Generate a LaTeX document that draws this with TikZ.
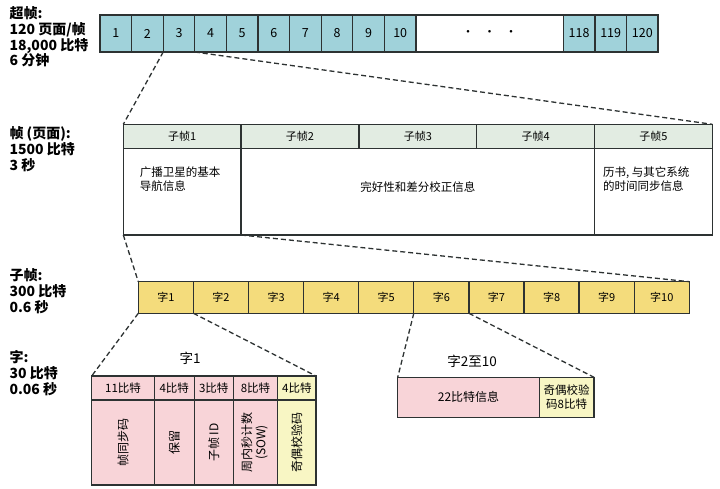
\documentclass[tikz,border=0pt]{standalone}
\usepackage{fontspec}
\setmainfont{Noto Sans CJK SC}
\usetikzlibrary{positioning}

\definecolor{supfill}{RGB}{160,210,218}
\definecolor{hdrfill}{RGB}{226,236,226}
\definecolor{wordfill}{RGB}{244,220,124}
\definecolor{bitfill}{RGB}{248,212,216}
\definecolor{parfill}{RGB}{248,246,196}
\definecolor{edge}{RGB}{45,50,50}

\tikzset{
  box/.style={draw=edge, line width=1.3pt, inner sep=0pt, outer sep=0pt, align=center},
  sfcell/.style={box, fill=supfill, minimum width=31.6pt, minimum height=37pt, font=\fontsize{12.5}{14}\selectfont},
  hdr/.style={box, fill=hdrfill, minimum width=117.8pt, minimum height=24pt, font=\fontsize{11}{13}\selectfont},
  body/.style={box, fill=white, minimum height=86.7pt},
  wcell/.style={box, fill=wordfill, minimum width=55.1pt, minimum height=31.6pt, font=\fontsize{11}{13}\selectfont},
  bits/.style={box, fill=bitfill, minimum height=24pt, font=\fontsize{11.5}{13}\selectfont},
  field/.style={box, fill=bitfill, minimum height=85pt, font=\fontsize{12}{14}\selectfont},
  side/.style={anchor=north west, align=left, font=\bfseries\fontsize{14}{15.8}\selectfont},
  note/.style={font=\fontsize{11.5}{14}\selectfont, align=left},
  title/.style={font=\fontsize{13.5}{15}\selectfont},
  zoomline/.style={draw=edge, line width=1.3pt, dash pattern=on 5pt off 3pt}
}

\begin{document}
\begin{tikzpicture}[x=1pt, y=-1pt]
\useasboundingbox (0,0) rectangle (720,489);

% left side labels
\node[side] (lsup) at (6,3) {超帧:\\120 页面/帧\\18,000 比特\\6 分钟};
\node[side] (lfrm) at (6,123) {帧 (页面):\\1500 比特\\3 秒};
\node[side] (lsub) at (6,265) {子帧:\\300 比特\\0.6 秒};
\node[side] (lwrd) at (6,347) {字:\\30 比特\\0.06 秒};

% superframe
\node[sfcell, anchor=north west] (c1) at (100,15) {1};
\foreach \i [remember=\i as \j (initially 1)] in {2,...,10}
  \node[sfcell, right=0pt of c\j] (c\i) {\i};
\node[sfcell, fill=white, minimum width=147.3pt, right=0pt of c10] (dots) {·\hspace{9pt}·\hspace{9pt}·};
\node[sfcell, right=0pt of dots] (c118) {118};
\node[sfcell, right=0pt of c118] (c119) {119};
\node[sfcell, right=0pt of c119] (c120) {120};

% frame of five subframes
\node[hdr, anchor=north west] (h1) at (123.3,124.3) {子帧1};
\foreach \i [remember=\i as \j (initially 1)] in {2,...,5}
  \node[hdr, right=0pt of h\j] (h\i) {子帧\i};
\node[body, minimum width=117.8pt, below=0pt of h1] (b1) {};
\node[body, minimum width=353.4pt, anchor=north west] (b2) at (h2.south west) {};
\node[body, minimum width=117.8pt, below=0pt of h5] (b5) {};
\node[note, anchor=north west] (t1) at ([xshift=13pt, yshift=-15pt]b1.north west) {广播卫星的基本\\导航信息};
\node[note] (t2) at ([yshift=5pt]b2.center) {完好性和差分校正信息};
\node[note, anchor=north west] (t5) at ([xshift=5pt, yshift=-15pt]b5.north west) {历书, 与其它系统\\的时间同步信息};

% subframe of ten words
\node[wcell, anchor=north west] (w1) at (138.3,281.7) {字1};
\foreach \i [remember=\i as \j (initially 1)] in {2,...,10}
  \node[wcell, right=0pt of w\j] (w\i) {字\i};

% word 1
\node[title] (lw1) at (190,358) {字1};
\node[bits, minimum width=62.6pt, anchor=north west] (s1) at (91.7,376) {11比特};
\node[bits, minimum width=40pt, right=0pt of s1] (s2) {4比特};
\node[bits, minimum width=39pt, right=0pt of s2] (s3) {3比特};
\node[bits, minimum width=44.4pt, right=0pt of s3] (s4) {8比特};
\node[bits, fill=parfill, minimum width=38.3pt, right=0pt of s4] (s5) {4比特};
\node[field, minimum width=62.6pt, below=0pt of s1] (f1) {\rotatebox{90}{帧同步码}};
\node[field, minimum width=40pt, below=0pt of s2] (f2) {\rotatebox{90}{保留}};
\node[field, minimum width=39pt, below=0pt of s3] (f3) {\rotatebox{90}{子帧 ID}};
\node[field, minimum width=44.4pt, below=0pt of s4] (f4) {\rotatebox{90}{\begin{tabular}{@{}c@{}}周内秒计数\\(SOW)\end{tabular}}};
\node[field, fill=parfill, minimum width=38.3pt, below=0pt of s5] (f5) {\rotatebox{90}{奇偶校验码}};

% words 2 to 10
\node[title] (lw2) at (472,361) {字2至10};
\node[field, minimum width=141.6pt, minimum height=40pt, anchor=north west] (info) at (397.7,377.3) {22比特信息};
\node[field, fill=parfill, minimum width=54.7pt, minimum height=40pt, font=\fontsize{11.5}{14}\selectfont, right=0pt of info] (par) {奇偶校验\\码8比特};

% zoom lines
\draw[zoomline] (c3.south west) -- (h1.north west);
\draw[zoomline] (c3.south east) -- (h5.north east);
\draw[zoomline] (b1.south west) -- (w1.north west);
\draw[zoomline] (b1.south east) -- (w10.north east);
\draw[zoomline] (w1.south west) -- (s1.north west);
\draw[zoomline] (w1.south east) -- (s5.north east);
\draw[zoomline] (w6.south west) -- (info.north west);
\draw[zoomline] (w6.south east) -- (par.north east);
\end{tikzpicture}
\end{document}
